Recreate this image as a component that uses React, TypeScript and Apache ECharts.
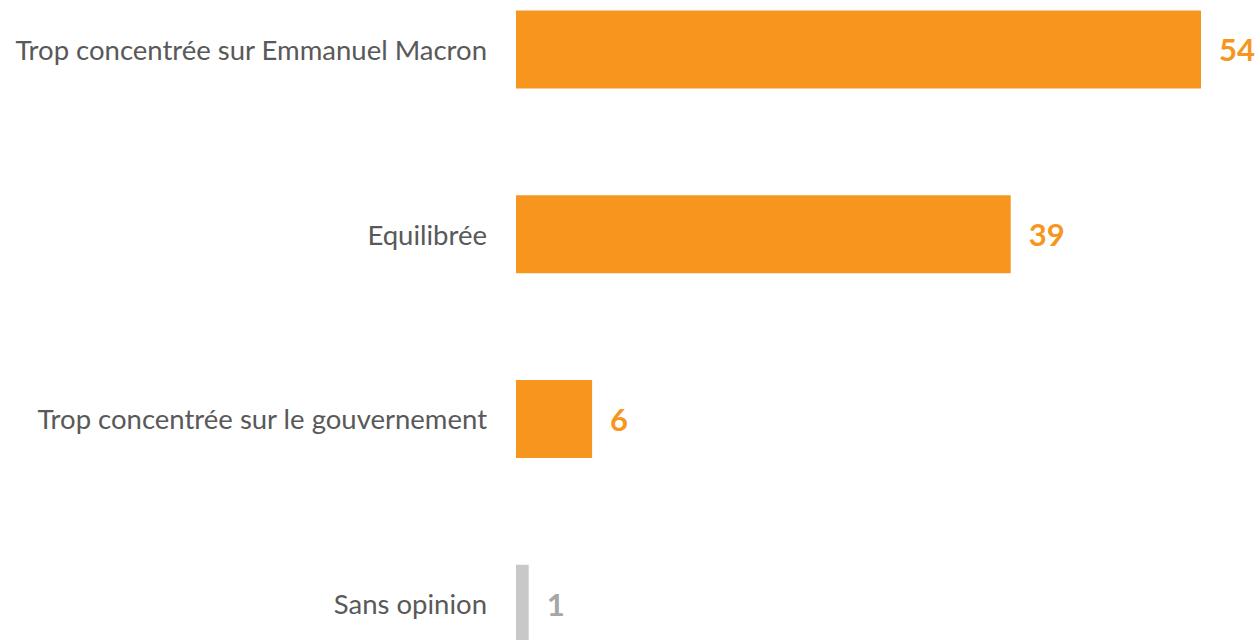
import React, { useEffect, useRef } from "react";
import * as echarts from "echarts";

const categories = [
  "Trop concentrée sur Emmanuel Macron",
  "Equilibrée",
  "Trop concentrée sur le gouvernement",
  "Sans opinion",
];
const values = [54, 39, 6, 1];
const barColors = ["#F7961E", "#F7961E", "#F7961E", "#C8C8C8"];
const labelColors = ["#F7961E", "#F7961E", "#F7961E", "#A6A6A6"];

export default function App() {
  const ref = useRef<HTMLDivElement>(null);
  useEffect(() => {
    document.body.style.margin = "0";
    const chart = echarts.init(ref.current!, null, { renderer: "svg" });
    chart.setOption({
      animation: false,
      grid: { left: 516, right: 59, top: 0, bottom: 0, containLabel: false },
      xAxis: { type: "value", min: 0, max: 54, show: false },
      yAxis: {
        type: "category",
        inverse: true,
        data: categories,
        axisLine: { show: false },
        axisTick: { show: false },
        splitLine: { show: false },
        axisLabel: {
          margin: 29,
          color: "#595959",
          fontSize: 27.5,
          fontFamily: "Lato",
        },
      },
      series: [
        {
          type: "bar",
          barWidth: 78,
          data: values.map((v, i) => ({
            value: v,
            itemStyle: { color: barColors[i] },
            label: { color: labelColors[i] },
          })),
          label: {
            show: true,
            position: "right",
            distance: 18,
            fontSize: 31,
            fontWeight: "bold",
            fontFamily: "Lato",
          },
        },
      ],
    });
    return () => chart.dispose();
  }, []);
  return (
    <div style={{ width: 1260, height: 640, overflow: "hidden" }}>
      <div ref={ref} style={{ width: 1260, height: 739, marginTop: -43 }} />
    </div>
  );
}
